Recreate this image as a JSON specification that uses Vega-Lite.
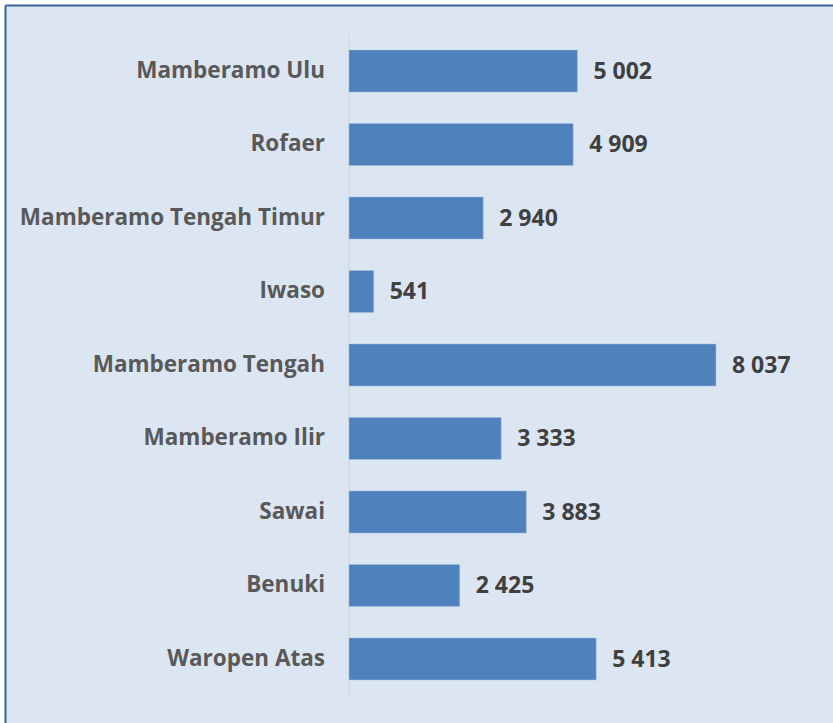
{
  "$schema": "https://vega.github.io/schema/vega-lite/v6.json",
  "autosize": "none",
  "width": 828,
  "height": 718,
  "padding": {"left": 5, "top": 5, "right": 0, "bottom": 0},
  "background": "#FFFFFF",
  "config": {
    "view": {"fill": "#DCE6F2", "stroke": null},
    "locale": {"number": {"decimal": ",", "thousands": " ", "grouping": [3], "currency": ["", ""]}}
  },
  "data": {
    "values": [
      {"distrik": "Mamberamo Ulu", "nilai": 5002},
      {"distrik": "Rofaer", "nilai": 4909},
      {"distrik": "Mamberamo Tengah Timur", "nilai": 2940},
      {"distrik": "Iwaso", "nilai": 541},
      {"distrik": "Mamberamo Tengah", "nilai": 8037},
      {"distrik": "Mamberamo Ilir", "nilai": 3333},
      {"distrik": "Sawai", "nilai": 3883},
      {"distrik": "Benuki", "nilai": 2425},
      {"distrik": "Waropen Atas", "nilai": 5413}
    ]
  },
  "encoding": {
    "y": {
      "field": "distrik", "type": "nominal", "sort": null,
      "scale": {"paddingInner": 0.4286, "paddingOuter": 0.599, "align": 0.511},
      "axis": {"orient": "left", "labels": false, "ticks": false, "grid": false, "title": null, "domainColor": "#3A6496", "domainWidth": 2}
    }
  },
  "layer": [
    {
      "mark": {"type": "tick", "color": "#D4D8DE", "thickness": 2, "size": 73.6},
      "encoding": {
        "x": {"datum": 0, "type": "quantitative", "scale": {"domain": [-7534, 10600], "nice": false, "zero": false},
          "axis": {"orient": "top", "labels": false, "ticks": false, "grid": false, "title": null, "domainColor": "#3A6496", "domainWidth": 2}}
      }
    },
    {
      "mark": {"type": "bar", "color": "#4F81BD", "stroke": "#A7BFDE", "strokeWidth": 0.5},
      "encoding": {
        "x": {"field": "nilai", "type": "quantitative"},
        "x2": {"datum": 0}
      }
    },
    {
      "mark": {"type": "text", "align": "left", "baseline": "middle", "dx": 16, "dy": 1, "font": "Open Sans", "fontWeight": "bold", "fontSize": 23, "color": "#404040"},
      "encoding": {
        "x": {"field": "nilai", "type": "quantitative"},
        "text": {"field": "nilai", "type": "quantitative", "format": ",d"}
      }
    },
    {
      "mark": {"type": "text", "align": "right", "baseline": "middle", "dx": -24, "font": "Open Sans", "fontWeight": "bold", "fontSize": 22.5, "color": "#595959"},
      "encoding": {
        "x": {"datum": 0, "type": "quantitative"},
        "text": {"field": "distrik", "type": "nominal"}
      }
    }
  ]
}
